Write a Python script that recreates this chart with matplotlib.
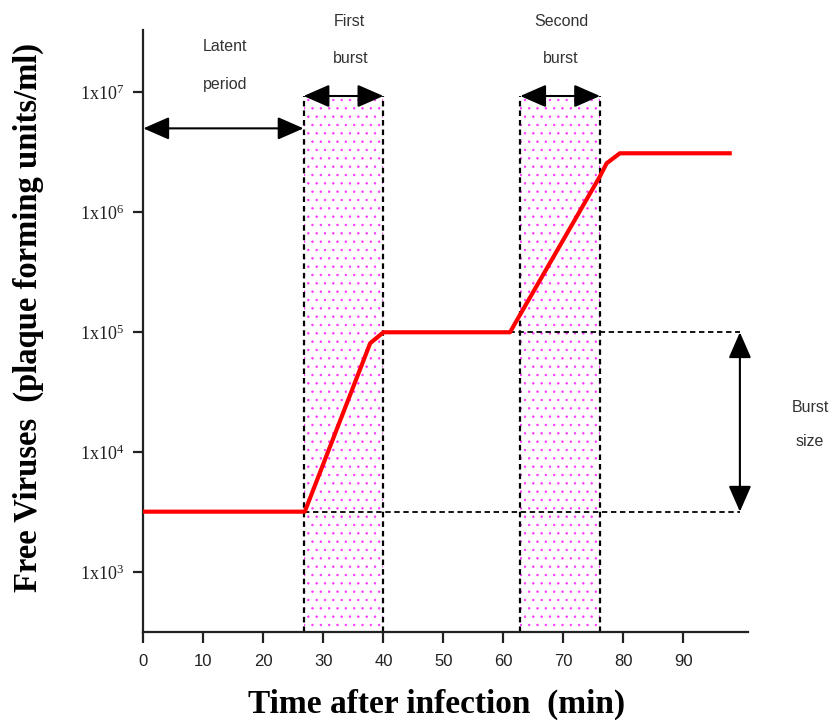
import numpy as np
import matplotlib
matplotlib.use("Agg")
import matplotlib.pyplot as plt
from matplotlib.patches import ArrowStyle
from matplotlib.ticker import FixedLocator, FuncFormatter, NullLocator


# -----------------------------
# Data
# -----------------------------

# one-step growth curve (minutes, pfu/ml)
curve_t = [0, 26.9, 37.8, 40.0, 61.1, 62.0, 76.1, 77.2, 79.4, 97.7]
curve_v = [3.2e3, 3.2e3, 8.1e4, 1.0e5, 1.0e5, 1.2e5, 2.0e6, 2.56e6, 3.1e6, 3.1e6]

# burst windows (start, end) in minutes
bursts = [(26.7, 40.0), (62.8, 76.1)]
burst_top = 9.3e6

latent_end = 26.7
latent_level = 5.0e6

plateau_low = 3.2e3
plateau_high = 1.0e5
burst_size_x = 99.4

x_ticks = [0, 10, 20, 30, 40, 50, 60, 70, 80, 90]
y_ticks = [1e3, 1e4, 1e5, 1e6, 1e7]

xlim = (0, 100.7)
ylim = (320, 3.3e7)


# -----------------------------
# Style
# -----------------------------

plt.rcParams["mathtext.fontset"] = "custom"
plt.rcParams["mathtext.rm"] = "Liberation Serif"
plt.rcParams["mathtext.it"] = "Liberation Serif"
plt.rcParams["hatch.linewidth"] = 0.5
plt.rcParams["hatch.color"] = "#ff33ff"

serif = "Liberation Serif"
sans = "Liberation Sans"
note_color = "#333333"

fig = plt.figure(figsize=(8.33, 7.2), dpi=100)
ax = fig.add_axes([143.3 / 833, 1 - 631.7 / 720, (747.7 - 143.3) / 833, (631.7 - 30) / 720])

ax.set_yscale("log")
ax.set_xlim(*xlim)
ax.set_ylim(*ylim)

for side in ["top", "right"]:
    ax.spines[side].set_visible(False)
for side in ["left", "bottom"]:
    ax.spines[side].set_linewidth(1.6)
    ax.spines[side].set_color("#222222")


# -----------------------------
# Shaded burst windows
# -----------------------------

for x0, x1 in bursts:
    ax.fill_between([x0, x1], ylim[0], burst_top, facecolor="none",
                    edgecolor="#ff33ff", hatch="..", linewidth=0, zorder=1)
    ax.vlines([x0, x1], ylim[0], burst_top, colors="black",
              linestyles=(0, (2.5, 1.8)), linewidth=1.6, zorder=2)

# dashed guides for the burst size
ax.hlines(plateau_low, bursts[0][0], burst_size_x, colors="black",
          linestyles=(0, (3.0, 2.0)), linewidth=1.3, zorder=2)
ax.hlines(plateau_high, bursts[0][1], burst_size_x, colors="black",
          linestyles=(0, (3.0, 2.0)), linewidth=1.3, zorder=2)


# -----------------------------
# Growth curve
# -----------------------------

ax.plot(curve_t, curve_v, color="red", linewidth=3.0, solid_joinstyle="round",
        zorder=4)


# -----------------------------
# Arrows
# -----------------------------

head = ArrowStyle("<|-|>", head_length=0.8, head_width=0.35)
arrow_kw = dict(arrowstyle=head, mutation_scale=20, color="black", lw=1.5,
                shrinkA=0, shrinkB=0)

ax.annotate("", xy=(latent_end, latent_level), xytext=(0, latent_level),
            arrowprops=arrow_kw, annotation_clip=False, zorder=5)
for x0, x1 in bursts:
    ax.annotate("", xy=(x1, burst_top), xytext=(x0, burst_top),
                arrowprops=arrow_kw, annotation_clip=False, zorder=5)
ax.annotate("", xy=(burst_size_x, plateau_low), xytext=(burst_size_x, plateau_high),
            arrowprops=arrow_kw, annotation_clip=False, zorder=5)


# -----------------------------
# Notes
# -----------------------------

note_kw = dict(family=sans, fontsize=11.5, color=note_color, ha="center",
               va="center", clip_on=False)
ax.text(13.6, 2.40e7, "Latent", **note_kw)
ax.text(13.6, 1.17e7, "period", **note_kw)
ax.text(34.3, 3.85e7, "First", **note_kw)
ax.text(34.5, 1.9e7, "burst", **note_kw)
ax.text(69.6, 3.85e7, "Second", **note_kw)
ax.text(69.6, 1.9e7, "burst", **note_kw)
ax.text(111.1, 2.34e4, "Burst", **note_kw)
ax.text(111.1, 1.22e4, "size", **note_kw)


# -----------------------------
# Ticks and labels
# -----------------------------

ax.xaxis.set_major_locator(FixedLocator(x_ticks))
ax.yaxis.set_major_locator(FixedLocator(y_ticks))
ax.yaxis.set_minor_locator(NullLocator())
ax.yaxis.set_major_formatter(FuncFormatter(
    lambda v, pos: r"$\mathrm{1x10^{%d}}$" % round(np.log10(v))))

ax.tick_params(axis="x", direction="out", length=8, width=1.6, pad=8,
               labelsize=12, colors="#222222")
ax.tick_params(axis="y", direction="out", length=7, width=1.6, pad=7,
               labelsize=13, colors="#222222")
for lab in ax.get_xticklabels():
    lab.set_family(sans)

ax.set_xlabel("Time after infection  (min)", family=serif, fontsize=24,
              fontweight="bold")
ax.xaxis.set_label_coords(0.486, -0.095)
ax.set_ylabel("Free Viruses  (plaque forming units/ml)", family=serif,
              fontsize=23.5, fontweight="bold")
ax.yaxis.set_label_coords(-0.164, 0.522)

fig.savefig("out.png", dpi=100)
